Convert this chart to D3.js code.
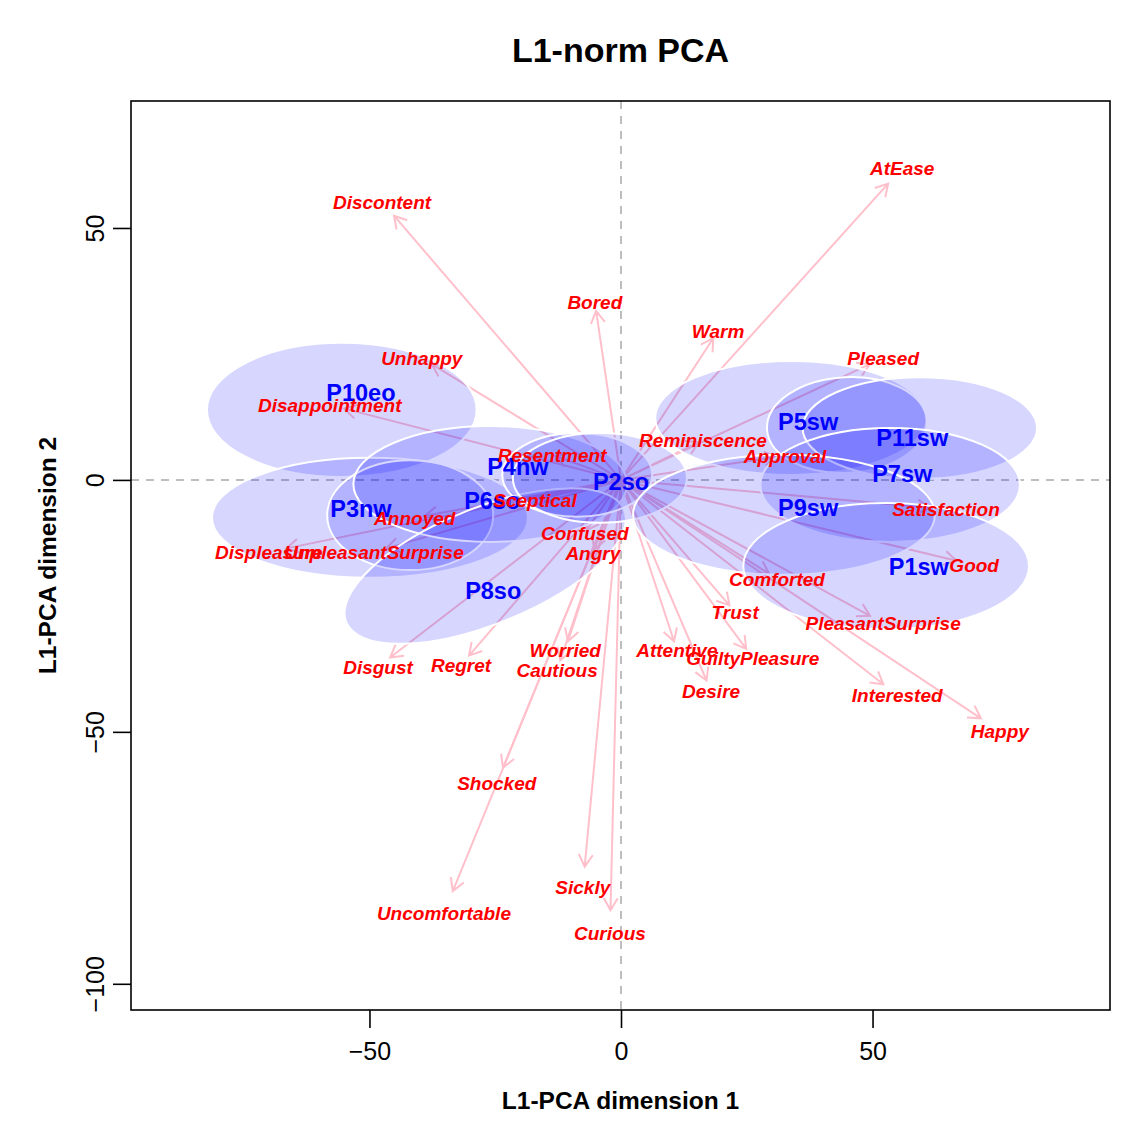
<!DOCTYPE html>
<html><head><meta charset="utf-8">
<script src="https://cdn.jsdelivr.net/npm/d3@7"></script>
<style>body{margin:0;background:#fff}svg{display:block}</style>
</head><body><svg id="c" width="1144" height="1142"></svg>
<script>
// ---- data ----
const wordNames = ["AtEase","Discontent","Bored","Warm","Unhappy","Pleased","Disappointment","Reminiscence","Resentment","Approval","Sceptical","Satisfaction","Annoyed","Confused","Angry","Displeasure","UnpleasantSurprise","Good","Comforted","Trust","PleasantSurprise","Disgust","Regret","Worried","Cautious","Attentive","GuiltyPleasure","Desire","Interested","Happy","Shocked","Sickly","Uncomfortable","Curious"];
const wordX = [55.9,-47.5,-5.2,19.3,-39.6,52.1,-57.9,16.3,-13.7,32.6,-17.1,64.6,-41.0,-7.2,-5.6,-70.0,-49.1,70.2,31.0,22.7,52.1,-48.3,-31.8,-11.1,-12.7,11.1,26.2,17.9,54.9,75.3,-24.7,-7.6,-35.2,-2.2];
const wordY = [61.9,55.2,35.3,29.6,24.2,24.2,14.9,7.9,5.0,4.8,-4.0,-5.8,-7.5,-10.5,-14.5,-14.3,-14.3,-16.9,-19.6,-26.2,-28.4,-37.1,-36.7,-33.7,-37.7,-33.7,-35.3,-41.9,-42.7,-49.8,-60.1,-80.8,-85.9,-89.9];

const personNames = ["P10eo","P3nw","P4nw","P6so","P8so","P2so","P5sw","P11sw","P7sw","P9sw","P1sw"];
const personX = [-51.7,-51.7,-20.5,-25.6,-25.4,0.0,37.2,57.9,55.9,37.2,59.2];
const personY = [17.4,-5.6,2.6,-4.0,-22.0,-0.3,11.5,8.5,1.2,-5.4,-17.1];

// confidence ellipses (data units): centre, semi-axes, rotation (degrees)
const ellCx    = [-55.5,-49.9,-41.9,-26.0,-27.0,-8.7,-4.2,33.8,44.9,59.4,53.5,32.4,52.7];
const ellCy    = [13.9,-7.5,-7.0,-0.8,-17.1,1.0,0.4,12.3,10.9,10.3,-1.0,-6.9,-17.1];
const ellRx    = [26.8,31.4,16.5,27.2,29.8,14.9,17.3,27.0,15.9,23.3,25.8,30.0,28.4];
const ellRy    = [13.3,11.9,10.9,11.5,11.5,8.3,8.9,11.3,9.5,10.1,11.3,11.9,12.5];
const ellAngle = [0,0,0,0,22,0,0,0,3,0,0,0,0];

const xTicks = [-50,0,50];
const yTicks = [-100,-50,0,50];

// ---- chart ----
const svg = d3.select("#c");
const font = "'Liberation Sans', Arial, Helvetica, sans-serif";
const L = 131, R = 1110, T = 101, B = 1010;
const x = d3.scaleLinear().domain([-97.4, 97.2]).range([L, R]);
const y = d3.scaleLinear().domain([-105.2, 75.2]).range([B, T]);

svg.append("rect").attr("width",1144).attr("height",1142).attr("fill","#fff");

const plot = svg.append("g");
// reference lines
plot.append("line").attr("x1",L).attr("x2",R).attr("y1",y(0)).attr("y2",y(0))
  .attr("stroke","#bebebe").attr("stroke-width",2).attr("stroke-dasharray","8,7");
plot.append("line").attr("y1",T).attr("y2",B).attr("x1",x(0)).attr("x2",x(0))
  .attr("stroke","#bebebe").attr("stroke-width",2).attr("stroke-dasharray","8,7");

// arrows
const words = wordNames.map((n,i)=>({n, vx:wordX[i], vy:wordY[i]}));
const ag = plot.append("g").attr("stroke","#ffc0cb").attr("stroke-width",2).attr("fill","none");
words.forEach(d=>{
  const x0=x(0), y0=y(0), x1=x(d.vx*0.95), y1=y(d.vy*0.95);
  const a = Math.atan2(y1-y0, x1-x0), len=14, h=Math.PI/6;
  const p = d3.path();
  p.moveTo(x0,y0); p.lineTo(x1,y1);
  p.moveTo(x1-len*Math.cos(a-h), y1-len*Math.sin(a-h)); p.lineTo(x1,y1);
  p.lineTo(x1-len*Math.cos(a+h), y1-len*Math.sin(a+h));
  ag.append("path").attr("d", p.toString());
});

// ellipses
const ells = ellCx.map((c,i)=>({cx:c, cy:ellCy[i], rx:ellRx[i], ry:ellRy[i], ang:ellAngle[i]}));
plot.append("g").selectAll("ellipse").data(ells).join("ellipse")
  .attr("cx", d=>x(d.cx)).attr("cy", d=>y(d.cy))
  .attr("rx", d=>x(d.cx+d.rx)-x(d.cx)).attr("ry", d=>y(d.cy)-y(d.cy+d.ry))
  .attr("transform", d=>`rotate(${-d.ang} ${x(d.cx)} ${y(d.cy)})`)
  .attr("fill","rgba(0,0,255,0.16)").attr("stroke","#fff").attr("stroke-width",2);

// person labels
plot.append("g").selectAll("text").data(personNames).join("text")
  .attr("x",(d,i)=>x(personX[i])).attr("y",(d,i)=>y(personY[i])).attr("dy","0.36em")
  .attr("text-anchor","middle").attr("font-family",font).attr("font-weight","bold")
  .attr("font-size",23.5).attr("fill","#0000ff").text(d=>d);

// word labels
plot.append("g").selectAll("text").data(words).join("text")
  .attr("x",d=>x(d.vx)).attr("y",d=>y(d.vy)).attr("dy","0.36em")
  .attr("text-anchor","middle").attr("font-family",font).attr("font-weight","bold")
  .attr("font-style","italic").attr("font-size",19).attr("fill","#ff0000").text(d=>d.n);

// box
svg.append("rect").attr("x",L).attr("y",T).attr("width",R-L).attr("height",B-T)
  .attr("fill","none").attr("stroke","#000").attr("stroke-width",1.6);

// axes
const fmt = d3.format("d");
const xa = svg.append("g").attr("transform",`translate(0,${B})`)
  .call(d3.axisBottom(x).tickValues(xTicks).tickSize(18).tickPadding(14).tickFormat(d=>fmt(d)));
xa.select(".domain").remove();
xa.selectAll("line").attr("stroke","#000").attr("stroke-width",1.6);
xa.selectAll("text").attr("font-family",font).attr("font-size",25).attr("fill","#000");

const ya = svg.append("g").attr("transform",`translate(${L},0)`)
  .call(d3.axisLeft(y).tickValues(yTicks).tickSize(18).tickPadding(0).tickFormat(d=>fmt(d)));
ya.select(".domain").remove();
ya.selectAll("line").attr("stroke","#000").attr("stroke-width",1.6);
ya.selectAll("text").attr("font-family",font).attr("font-size",25).attr("fill","#000")
  .attr("x",null).attr("dy",null).attr("text-anchor","middle")
  .attr("transform","translate(-36,0) rotate(-90)").attr("dy","0.35em");

// titles
svg.append("text").attr("x",(L+R)/2).attr("y",50).attr("dy","0.36em").attr("text-anchor","middle")
  .attr("font-family",font).attr("font-weight","bold").attr("font-size",34).text("L1-norm PCA");
svg.append("text").attr("x",(L+R)/2).attr("y",1100).attr("dy","0.36em").attr("text-anchor","middle")
  .attr("font-family",font).attr("font-weight","bold").attr("font-size",24.5).text("L1-PCA dimension 1");
svg.append("text").attr("transform",`translate(47,${(T+B)/2}) rotate(-90)`).attr("dy","0.36em")
  .attr("text-anchor","middle").attr("font-family",font).attr("font-weight","bold")
  .attr("font-size",24.5).text("L1-PCA dimension 2");
</script></body></html>
